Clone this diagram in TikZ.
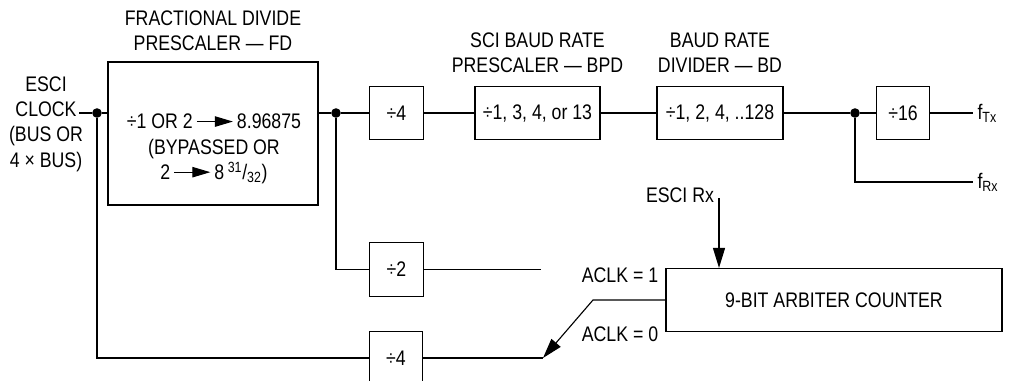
\documentclass[tikz,border=0pt]{standalone}
\usepackage{fontspec}
\setmainfont{Liberation Sans}[FakeStretch=0.84]
\usetikzlibrary{positioning, arrows.meta}

% small arrow used inside the prescaler text
\newcommand{\fdarr}{\tikz[baseline=-5.2pt]\draw[line width=0.8pt, -{Triangle[length=0.45cm, width=0.26cm]}] (0cm,0cm) -- (0.9cm,0cm);}

\begin{document}
\begin{tikzpicture}[
    x=0.025cm, y=-0.025cm,
    line width=0.8pt,
    font=\fontsize{15}{18}\selectfont,
    >={Triangle[length=0.5cm, width=0.3cm]},
    blk/.style={draw, line width=0.8pt, inner sep=0pt, minimum width=1.33cm, minimum height=1.33cm, align=center},
    dot/.style={circle, fill, inner sep=0pt, minimum size=0.24cm},
    lbl/.style={align=center},
    sig/.style={inner sep=0.1cm}
]

\useasboundingbox (0,0) rectangle (1014,381);

% -------------------------
% Clock Input and Fractional Divide Prescaler
% -------------------------
\node[lbl] (ClkLabel) at (46,124) {ESCI\\CLOCK\\(BUS OR\\4 × BUS)};
\coordinate (ClkIn) at (79,113);
\node[dot] (D1) at (97,113) {};

\node[blk, minimum width=5.25cm, minimum height=3.575cm] (FD) at (213,133.5) {};
\node[lbl] (FDText) at (214,149) {÷1 OR 2\,\fdarr\,8.96875\\(BYPASSED OR\\2\,\fdarr\,8\,\textsuperscript{31}/\textsubscript{32})};
\node[lbl, above=0.14cm of FD] (FDLabel) {FRACTIONAL DIVIDE\\PRESCALER — FD};

\node[dot] (D2) at (336,113) {};

% -------------------------
% Baud Rate Chain (Top Row)
% -------------------------
\node[blk] (Div4a) at (396.5,113) {÷4};
\node[blk, minimum width=3.125cm] (BPD) at (537.5,113) {÷1, 3, 4, or 13};
\node[blk, minimum width=3.15cm] (BD) at (720,113) {÷1, 2, 4, ..128};
\node[lbl, above=0.2cm of BPD] (BPDLabel) {SCI BAUD RATE\\PRESCALER — BPD};
\node[lbl, above=0.2cm of BD] (BDLabel) {BAUD RATE\\DIVIDER — BD};

\node[dot] (D3) at (855,113) {};
\node[blk] (Div16) at (903,113) {÷16};
\node[sig, anchor=west] (FTx) at (973,113) {f\textsubscript{Tx}};
\node[sig, anchor=west] (FRx) at (973,182) {f\textsubscript{Rx}};

% -------------------------
% Arbiter Branch (Bottom)
% -------------------------
\node[blk] (Div2) at (396.5,269.5) {÷2};
\node[blk] (Div4b) at (396,358) {÷4};
\coordinate (Div2Out) at (541,269.5);
\coordinate (Aclk0) at (543,358);
\coordinate (Bend) at (593,300);

\node[blk, minimum width=8.4cm, minimum height=1.575cm] (Arb) at (834,300) {9-BIT ARBITER COUNTER};
\node (RxLabel) at (680,195) {ESCI Rx};
\coordinate (RxIn) at (719,198);
\node (Aclk1Label) at (620,275) {ACLK = 1};
\node (Aclk0Label) at (620,334) {ACLK = 0};

% -------------------------
% Connections
% -------------------------
\draw (ClkIn) -- (D1) -- (D1 -| FD.west);
\draw (FD.east |- D2) -- (D2) -- (Div4a.west);
\draw (Div4a) -- (BPD);
\draw (BPD) -- (BD);
\draw (BD.east) -- (D3) -- (Div16.west);
\draw (Div16) -- (FTx);
\draw (D3) |- (FRx.west);

\draw (D2) |- (Div2.west);
\draw (D1) |- (Div4b.west);
\draw (Div2) -- (Div2Out);
\draw (Div4b) -- (Aclk0);
\draw[->] (Arb.west) -- (Bend) -- (Aclk0);
\draw[->] (RxIn) -- (RxIn |- Arb.north);

\end{tikzpicture}
\end{document}
